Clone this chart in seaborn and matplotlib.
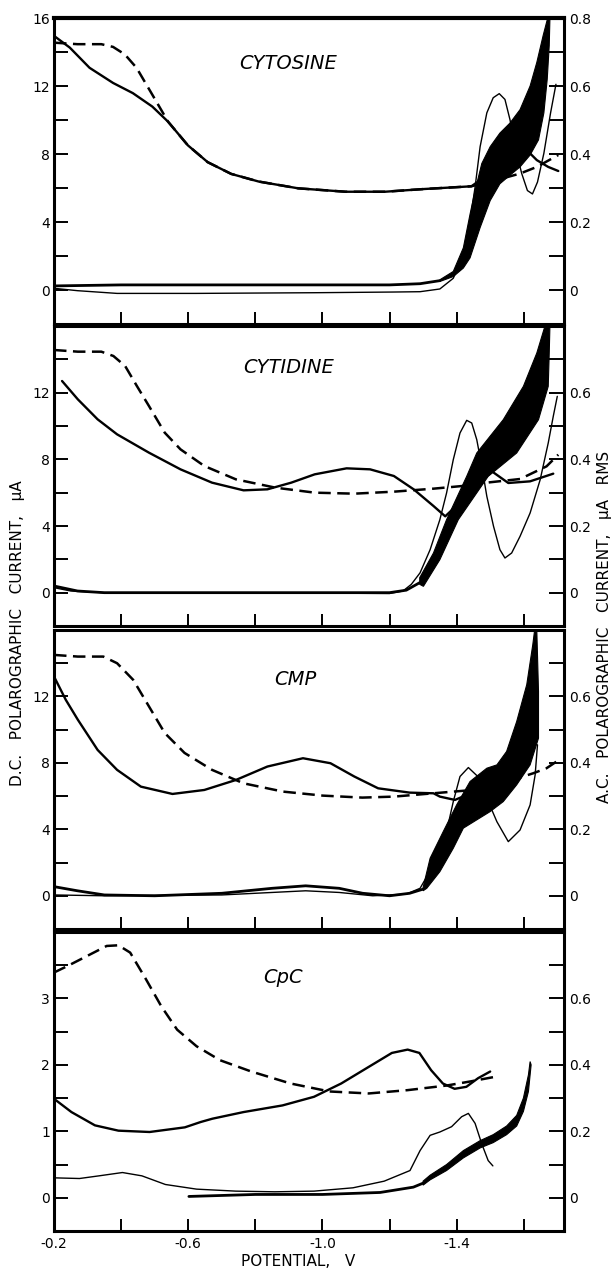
import numpy as np
import matplotlib
matplotlib.use("Agg")
import matplotlib.pyplot as plt
import seaborn as sns

sns.set_theme(style="white")
plt.rcParams['font.family'] = ['DejaVu Sans']
plt.rcParams['text.color'] = 'black'
plt.rcParams['axes.labelcolor'] = 'black'
plt.rcParams['xtick.color'] = 'black'
plt.rcParams['ytick.color'] = 'black'

# ---------------- data (potential in V, current on left/DC scale) ----------------
# Panel 1: CYTOSINE
p1_dash_x = [-0.200,-0.270,-0.341,-0.376,-0.411,-0.446,-0.493,-0.540,-0.599,-0.658,-0.728,-0.810,-0.928,-1.069,-1.186,-1.303,-1.444,-1.534,-1.589,-1.639,-1.703]
p1_dash_y = [14.55,14.46,14.46,14.30,13.86,13.07,11.49,9.90,8.51,7.52,6.83,6.38,5.98,5.78,5.78,5.94,6.10,6.55,6.85,7.24,7.94]
p1_ac_x = [-0.200,-0.247,-0.306,-0.376,-0.435,-0.493,-0.540,-0.599,-0.658,-0.728,-0.810,-0.928,-1.069,-1.186,-1.303,-1.444,-1.530,-1.609,-1.639,-1.673,-1.703]
p1_ac_y = [14.95,14.26,13.07,12.18,11.58,10.79,9.90,8.51,7.52,6.83,6.38,5.98,5.78,5.78,5.94,6.10,7.30,8.23,7.64,7.24,7.00]
p1_thin_x = [-0.200,-0.270,-0.388,-0.623,-0.975,-1.210,-1.291,-1.350,-1.390,-1.420,-1.440,-1.455,-1.470,-1.490,-1.509,-1.527,-1.544,-1.559,-1.574,-1.594,-1.611,-1.626,-1.641,-1.660,-1.680,-1.696]
p1_thin_y = [0.10,-0.04,-0.20,-0.20,-0.16,-0.12,-0.10,0.06,0.69,2.08,4.07,6.05,8.43,10.42,11.31,11.55,11.21,10.02,8.43,6.85,5.85,5.65,6.35,8.04,10.42,12.10]
p1_dc_x = [-0.200,-0.400,-0.800,-1.200,-1.291,-1.350]
p1_dc_y = [0.24,0.30,0.30,0.30,0.37,0.55]
p1_bu_x = [-1.350,-1.390,-1.420,-1.440,-1.455,-1.475,-1.500,-1.529,-1.559,-1.589,-1.619,-1.639,-1.658,-1.671]
p1_bu_y = [0.60,1.09,2.48,4.46,5.85,7.44,8.43,9.23,9.82,10.61,12.00,13.39,14.98,15.97]
p1_bl_x = [-1.350,-1.390,-1.420,-1.440,-1.470,-1.500,-1.529,-1.559,-1.589,-1.619,-1.644,-1.660,-1.670,-1.676,-1.678]
p1_bl_y = [0.50,0.79,1.29,1.89,3.67,5.26,6.25,6.75,7.24,7.94,8.83,10.42,12.40,14.39,15.97]

# Panel 2: CYTIDINE
p2_dash_x = [-0.200,-0.271,-0.341,-0.377,-0.412,-0.447,-0.483,-0.530,-0.577,-0.648,-0.742,-0.860,-0.977,-1.095,-1.213,-1.331,-1.449,-1.480,-1.589,-1.668,-1.703]
p2_dash_y = [14.56,14.46,14.46,14.20,13.60,12.40,11.20,9.60,8.60,7.60,6.80,6.30,6.00,5.94,6.06,6.24,6.46,6.58,6.82,7.58,8.28]
p2_ac_x = [-0.224,-0.271,-0.330,-0.388,-0.483,-0.577,-0.671,-0.765,-0.836,-0.907,-0.977,-1.072,-1.142,-1.213,-1.272,-1.331,-1.366,-1.430,-1.505,-1.554,-1.619,-1.688]
p2_ac_y = [12.70,11.60,10.40,9.50,8.40,7.40,6.60,6.14,6.20,6.60,7.10,7.46,7.40,7.00,6.20,5.20,4.58,5.80,7.28,6.58,6.68,7.14]
p2_thin_x = [-0.200,-0.250,-0.350,-0.800,-1.200,-1.240,-1.265,-1.291,-1.321,-1.350,-1.370,-1.390,-1.410,-1.430,-1.445,-1.460,-1.475,-1.490,-1.510,-1.529,-1.544,-1.564,-1.589,-1.619,-1.649,-1.673,-1.688,-1.700]
p2_thin_y = [0.30,0.10,0.00,0.00,-0.05,0.10,0.50,1.19,2.58,4.38,5.98,7.98,9.58,10.34,10.18,9.18,7.58,5.78,3.98,2.58,2.08,2.38,3.38,4.78,6.78,8.98,10.58,11.78]
p2_dc_x = [-0.200,-0.270,-0.350,-1.200,-1.250,-1.290]
p2_dc_y = [0.40,0.10,0.00,0.00,0.15,0.60]
p2_bu_x = [-1.290,-1.331,-1.370,-1.430,-1.460,-1.539,-1.599,-1.639,-1.663]
p2_bu_y = [0.90,2.38,4.38,6.98,8.38,10.38,12.38,14.38,15.98]
p2_bl_x = [-1.290,-1.301,-1.350,-1.405,-1.494,-1.579,-1.644,-1.673,-1.676,-1.678]
p2_bl_y = [0.50,0.38,1.98,4.38,6.98,8.38,10.38,12.38,14.38,15.98]

# Panel 3: CMP
p3_dash_x = [-0.200,-0.271,-0.347,-0.388,-0.436,-0.483,-0.530,-0.589,-0.671,-0.765,-0.883,-1.001,-1.119,-1.213,-1.331,-1.449,-1.566,-1.629,-1.668,-1.708]
p3_dash_y = [14.50,14.40,14.40,14.00,13.00,11.40,9.80,8.60,7.58,6.77,6.27,6.03,5.91,5.97,6.17,6.37,6.97,7.38,7.68,8.22]
p3_ac_x = [-0.200,-0.235,-0.271,-0.330,-0.388,-0.459,-0.553,-0.648,-0.742,-0.836,-0.942,-1.024,-1.095,-1.166,-1.260,-1.331,-1.350,-1.395,-1.430,-1.460]
p3_ac_y = [13.20,11.80,10.60,8.78,7.58,6.57,6.13,6.37,6.97,7.78,8.28,7.98,7.18,6.47,6.21,6.17,5.97,5.77,6.07,6.30]
p3_thin_x = [-0.200,-0.350,-0.700,-0.850,-0.950,-1.050,-1.150,-1.250,-1.291,-1.331,-1.370,-1.390,-1.410,-1.435,-1.460,-1.490,-1.520,-1.554,-1.589,-1.619,-1.634,-1.641]
p3_thin_y = [0.05,0.00,0.05,0.20,0.30,0.20,0.00,0.10,0.45,1.85,3.86,5.67,7.18,7.72,7.24,5.87,4.46,3.26,3.96,5.47,7.28,9.09]
p3_dc_x = [-0.200,-0.270,-0.350,-0.500,-0.700,-0.850,-0.950,-1.050,-1.120,-1.200,-1.260,-1.300]
p3_dc_y = [0.55,0.30,0.05,0.00,0.15,0.45,0.60,0.45,0.15,0.00,0.15,0.40]
p3_bu_x = [-1.300,-1.321,-1.360,-1.400,-1.440,-1.490,-1.520,-1.549,-1.579,-1.609,-1.627,-1.632]
p3_bu_y = [0.50,2.26,3.86,5.47,6.88,7.68,7.88,8.69,10.49,12.71,15.12,15.92]
p3_bl_x = [-1.300,-1.311,-1.350,-1.390,-1.420,-1.460,-1.500,-1.539,-1.579,-1.619,-1.644,-1.644,-1.639]
p3_bl_y = [0.30,0.45,1.45,2.86,4.07,4.57,5.07,5.67,6.68,7.88,9.49,12.30,15.92]

# Panel 4: CpC
p4_dash_x = [-0.200,-0.241,-0.299,-0.357,-0.392,-0.427,-0.474,-0.520,-0.567,-0.625,-0.695,-0.788,-0.905,-1.021,-1.138,-1.254,-1.371,-1.440,-1.514]
p4_dash_y = [3.39,3.49,3.64,3.79,3.80,3.69,3.29,2.88,2.53,2.28,2.07,1.90,1.72,1.60,1.57,1.62,1.69,1.75,1.82]
p4_ac_x = [-0.200,-0.252,-0.322,-0.392,-0.485,-0.590,-0.637,-0.672,-0.765,-0.881,-0.975,-1.056,-1.138,-1.207,-1.254,-1.289,-1.324,-1.359,-1.394,-1.429,-1.464,-1.500]
p4_ac_y = [1.49,1.29,1.09,1.01,0.99,1.06,1.14,1.19,1.29,1.39,1.52,1.72,1.97,2.18,2.23,2.18,1.92,1.72,1.64,1.67,1.80,1.90]
p4_thin_x = [-0.200,-0.276,-0.334,-0.404,-0.462,-0.532,-0.625,-0.742,-0.858,-0.975,-1.091,-1.184,-1.261,-1.291,-1.321,-1.350,-1.385,-1.415,-1.435,-1.455,-1.475,-1.494,-1.508]
p4_thin_y = [0.30,0.29,0.33,0.38,0.33,0.20,0.13,0.10,0.09,0.10,0.15,0.25,0.41,0.71,0.94,0.99,1.07,1.22,1.27,1.12,0.81,0.56,0.48]
p4_dc_x = [-0.602,-0.800,-1.000,-1.172,-1.271,-1.300]
p4_dc_y = [0.02,0.05,0.05,0.08,0.16,0.22]
p4_bu_x = [-1.300,-1.321,-1.370,-1.420,-1.470,-1.509,-1.549,-1.579,-1.599,-1.614,-1.619]
p4_bu_y = [0.25,0.34,0.50,0.71,0.86,0.95,1.08,1.24,1.50,1.85,2.05]
p4_bl_x = [-1.300,-1.321,-1.370,-1.420,-1.470,-1.509,-1.549,-1.579,-1.599,-1.614,-1.622]
p4_bl_y = [0.19,0.27,0.41,0.60,0.75,0.83,0.95,1.08,1.30,1.60,2.00]

titles = ["CYTOSINE", "CYTIDINE", "CMP", "CpC"]
x_ticks = [-0.2, -0.4, -0.6, -0.8, -1.0, -1.2, -1.4, -1.6]
x_ticklabels = ["-0.2", "", "-0.6", "", "-1.0", "", "-1.4", ""]

# ---------------- layout ----------------
W, H = 615, 1272
fig = plt.figure(figsize=(W / 100, H / 100), dpi=100)
rows = [(18, 324), (326, 626), (630, 929), (932, 1231)]
left_px, right_px = 54, 564

panels = [
    dict(dash=(p1_dash_x, p1_dash_y), ac=(p1_ac_x, p1_ac_y), thin=(p1_thin_x, p1_thin_y),
         dc=(p1_dc_x, p1_dc_y), bu=(p1_bu_x, p1_bu_y), bl=(p1_bl_x, p1_bl_y),
         ylim=(-2, 16), lt=np.arange(0, 16.1, 2), ll=[0, 4, 8, 12, 16], scale=0.05,
         rl=[0, 0.2, 0.4, 0.6, 0.8], tpos=(0.46, 0.85)),
    dict(dash=(p2_dash_x, p2_dash_y), ac=(p2_ac_x, p2_ac_y), thin=(p2_thin_x, p2_thin_y),
         dc=(p2_dc_x, p2_dc_y), bu=(p2_bu_x, p2_bu_y), bl=(p2_bl_x, p2_bl_y),
         ylim=(-2, 16), lt=np.arange(0, 15.1, 2), ll=[0, 4, 8, 12], scale=0.05,
         rl=[0, 0.2, 0.4, 0.6], tpos=(0.46, 0.862)),
    dict(dash=(p3_dash_x, p3_dash_y), ac=(p3_ac_x, p3_ac_y), thin=(p3_thin_x, p3_thin_y),
         dc=(p3_dc_x, p3_dc_y), bu=(p3_bu_x, p3_bu_y), bl=(p3_bl_x, p3_bl_y),
         ylim=(-2, 16), lt=np.arange(0, 15.1, 2), ll=[0, 4, 8, 12], scale=0.05,
         rl=[0, 0.2, 0.4, 0.6], tpos=(0.473, 0.833)),
    dict(dash=(p4_dash_x, p4_dash_y), ac=(p4_ac_x, p4_ac_y), thin=(p4_thin_x, p4_thin_y),
         dc=(p4_dc_x, p4_dc_y), bu=(p4_bu_x, p4_bu_y), bl=(p4_bl_x, p4_bl_y),
         ylim=(-0.5, 4.0), lt=np.arange(0, 3.6, 0.5), ll=[0, 1, 2, 3], scale=0.2,
         rl=[0, 0.2, 0.4, 0.6], tpos=(0.449, 0.847)),
]


def fmt(v):
    return f"{v:g}"


def line(ax, xy, lw, ls="-", z=3):
    sns.lineplot(x=np.asarray(xy[0]), y=np.asarray(xy[1]), ax=ax, sort=False, estimator=None,
                 color="black", lw=lw, linestyle=ls, zorder=z, legend=False,
                 solid_joinstyle="round", solid_capstyle="round", dash_joinstyle="round")


for i, (p, (top, bot)) in enumerate(zip(panels, rows)):
    ax = fig.add_axes([left_px / W, 1 - bot / H, (right_px - left_px) / W, (bot - top) / H])
    ax.set_facecolor("white")
    line(ax, p["dash"], 1.8, (0, (5, 2.6)))
    line(ax, p["ac"], 1.7)
    line(ax, p["thin"], 1.0)
    line(ax, p["dc"], 2.0)
    bx = np.concatenate([p["bu"][0], p["bl"][0][::-1]])
    by = np.concatenate([p["bu"][1], p["bl"][1][::-1]])
    ax.fill(bx, by, color="black", lw=0.8, zorder=2.5)

    ax.set_xlim(-0.2, -1.72)
    ax.set_ylim(*p["ylim"])
    ax.set_xlabel("")
    ax.set_ylabel("")
    for s in ax.spines.values():
        s.set_linewidth(2.2)
        s.set_color("black")
    ax.spines["top"].set_linewidth(3.0 if i == 0 else 2.2)

    ax.set_xticks(x_ticks)
    ax.set_xticklabels(x_ticklabels if i == 3 else [""] * len(x_ticks))
    ax.tick_params(axis="x", direction="in", length=9, width=1.4, bottom=True, top=False,
                   labelsize=10, pad=4, colors="black")
    ax.set_yticks(p["lt"])
    ax.set_yticklabels([fmt(v) if v in p["ll"] else "" for v in p["lt"]])
    ax.tick_params(axis="y", direction="in", length=10, width=1.4, left=True, right=False,
                   labelsize=10, pad=3, colors="black")

    ax2 = ax.twinx()
    ax2.set_ylim(p["ylim"][0] * p["scale"], p["ylim"][1] * p["scale"])
    rt = np.asarray(p["lt"]) * p["scale"]
    ax2.set_yticks(rt)
    ax2.set_yticklabels([fmt(round(v, 2)) if any(abs(v - r) < 1e-6 for r in p["rl"]) else "" for v in rt])
    ax2.tick_params(axis="y", direction="in", length=11, width=1.4, right=True, left=False,
                    labelsize=10, pad=4, colors="black")
    for s in ax2.spines.values():
        s.set_visible(False)
    ax2.grid(False)
    ax.grid(False)

    ax.text(p["tpos"][0], p["tpos"][1], titles[i], transform=ax.transAxes, ha="center",
            va="center", fontsize=14, style="italic", color="black")

fig.text(18 / W, 1 - 633 / H, "D.C.   POLAROGRAPHIC   CURRENT,   \u03bcA", rotation=90,
         ha="center", va="center", fontsize=11, color="black")
fig.text(605 / W, 1 - 627 / H, "A.C.   POLAROGRAPHIC   CURRENT,   \u03bcA   RMS", rotation=90,
         ha="center", va="center", fontsize=11, color="black")
fig.text(298 / W, 1 - 1262 / H, "POTENTIAL,   V", ha="center", va="center", fontsize=11,
         color="black")

fig.savefig("out.png", dpi=100, facecolor="white")
